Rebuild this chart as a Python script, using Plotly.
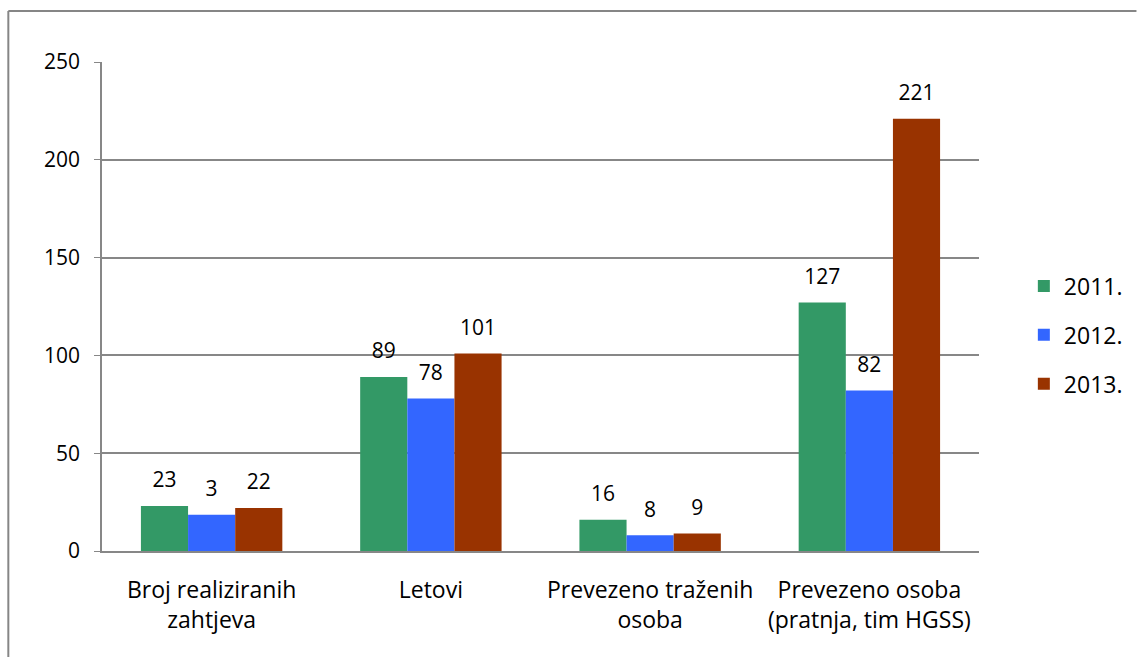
import plotly.graph_objects as go

categories = ["Broj realiziranih<br>zahtjeva", "Letovi", "Prevezeno traženih<br>osoba", "Prevezeno osoba<br>(pratnja, tim HGSS)"]
series_names = ["2011.", "2012.", "2013."]
values_2011 = [23, 89, 16, 127]
values_2012 = [18.5, 78, 8, 82]
values_2013 = [22, 101, 9, 221]
labels_2011 = ["23", "89", "16", "127"]
labels_2012 = ["3", "78", "8", "82"]
labels_2013 = ["22", "101", "9", "221"]
colors = ["#339966", "#3366FF", "#993300"]

FONT = "'Open Sans', Lato, sans-serif"
FS = 21

W, H = 1140, 657
L, T = 102, 62
R, B = W - 982, H - 551
PW, PH = W - L - R, H - T - B

fig = go.Figure()
for i, (name, vals, labs, col) in enumerate(zip(series_names,
                                 [values_2011, values_2012, values_2013],
                                 [labels_2011, labels_2012, labels_2013],
                                 colors)):
    fig.add_trace(go.Bar(
        x=categories, y=vals, name=name, marker=dict(color=col, line=dict(width=0)),
        offsetgroup=str(i), legendgroup=str(i), hoverinfo="skip",
    ))
    fig.add_trace(go.Scatter(
        x=categories, y=vals, mode="markers+text", text=labs,
        textposition="top center", offsetgroup=str(i), showlegend=False,
        marker=dict(size=20, color="rgba(0,0,0,0)"), cliponaxis=False,
        textfont=dict(size=FS, color="#000000", family=FONT), hoverinfo="skip",
    ))

fig.update_layout(
    width=W, height=H,
    margin=dict(l=L, r=R, t=T, b=B),
    paper_bgcolor="white", plot_bgcolor="white",
    barmode="group", bargap=0.355, bargroupgap=0,
    scattermode="group", scattergap=0.355,
    font=dict(family=FONT, size=FS, color="#000000"),
    showlegend=True,
    legend=dict(x=(1027 - L) / PW, y=(551 - 335) / PH, xanchor="left", yanchor="middle",
                font=dict(size=23, family=FONT), tracegroupgap=16,
                itemwidth=30, bgcolor="rgba(0,0,0,0)"),
)
fig.update_yaxes(range=[0, 250], dtick=50, showgrid=True, gridcolor="#878787", gridwidth=1.5,
                 showline=True, linecolor="#878787", linewidth=1.5,
                 ticks="outside", ticklen=6, tickcolor="#878787", ticklabelstandoff=10,
                 tickfont=dict(size=FS, family=FONT), zeroline=False)
fig.update_xaxes(showline=True, linecolor="#878787", linewidth=2, ticks="",
                 tickfont=dict(size=23, family=FONT), ticklabelstandoff=17)

# outer chart frame (left and top edges)
fig.add_shape(type="line", xref="paper", yref="paper",
              x0=(8 - L) / PW, x1=(8 - L) / PW, y0=(551 - H) / PH, y1=(551 - 11) / PH,
              line=dict(color="#868686", width=2), layer="below")
fig.add_shape(type="line", xref="paper", yref="paper",
              x0=(8 - L) / PW, x1=(W - L) / PW, y0=(551 - 11) / PH, y1=(551 - 11) / PH,
              line=dict(color="#868686", width=2), layer="below")

fig.write_html("out.html", config={"displayModeBar": False},
               post_script="document.body.style.margin='0';")
